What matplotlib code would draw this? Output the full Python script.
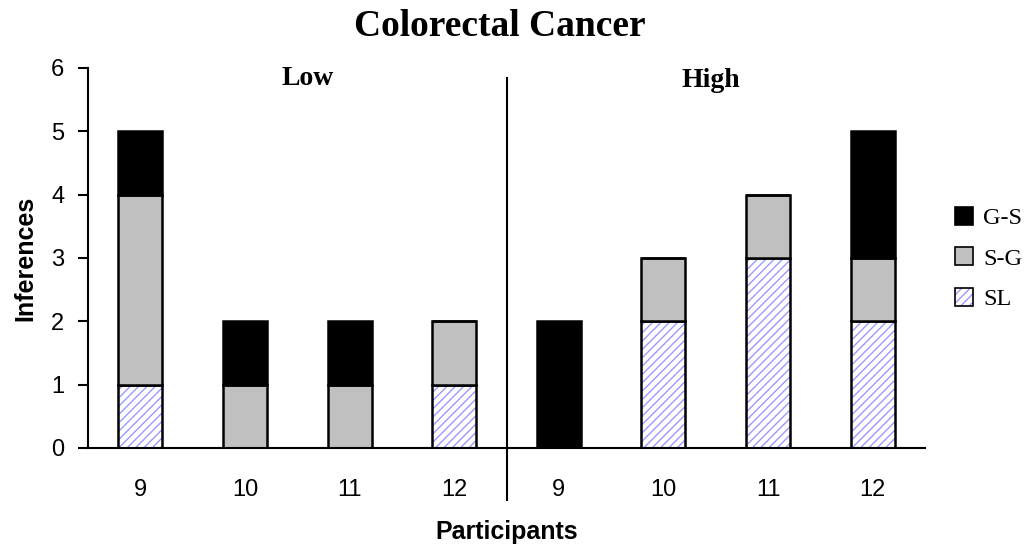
import matplotlib
matplotlib.use("Agg")
import matplotlib.pyplot as plt
from matplotlib.patches import Patch
from matplotlib.legend_handler import HandlerTuple
import numpy as np

categories = ["9", "10", "11", "12", "9", "10", "11", "12"]
sl = [1, 0, 0, 1, 0, 2, 3, 2]
sg = [3, 1, 1, 1, 0, 1, 1, 1]
gs = [1, 1, 1, 0, 2, 0, 0, 2]
group_labels = ["Low", "High"]

fig = plt.figure(figsize=(10.29, 5.48), dpi=100)
ax = fig.add_axes([88/1029, 100/548, (925-88)/1029, (448-68)/548])

x = np.arange(len(categories))
w = 0.42
sl_a = np.array(sl); sg_a = np.array(sg); gs_a = np.array(gs)

hatch_col = "#9a9aff"
# SL hatch fill
ax.bar(x, sl_a, w, color="white", edgecolor=hatch_col, hatch="////", linewidth=0)
ax.bar(x, sl_a, w, fill=False, edgecolor="black", linewidth=1.8)
ax.bar(x, sg_a, w, bottom=sl_a, color="#c0c0c0", edgecolor="black", linewidth=1.8)
ax.bar(x, gs_a, w, bottom=sl_a + sg_a, color="black", edgecolor="black", linewidth=1.8)

ax.set_xlim(-0.5, len(categories) - 0.5)
ax.set_ylim(0, 6)
ax.set_yticks(range(0, 7))
ax.set_xticks(x)
ax.set_xticklabels(categories, fontfamily="Liberation Sans", fontsize=17)
ax.tick_params(axis="x", length=0, pad=22)
ax.tick_params(axis="y", length=7, width=1.5, direction="out", pad=10, labelsize=17)
for lab in ax.get_yticklabels():
    lab.set_fontfamily("Liberation Sans")
for s in ["top", "right"]:
    ax.spines[s].set_visible(False)
ax.spines["left"].set_linewidth(1.5)
ax.spines["bottom"].set_linewidth(1.5)

# divider
ax.plot([3.5, 3.5], [5.84, -0.82], color="black", linewidth=1.5, clip_on=False)
ax.text(1.6, 5.84, group_labels[0], ha="center", va="center", fontsize=20,
        fontweight="bold", fontfamily="Liberation Serif")
ax.text(5.45, 5.8, group_labels[1], ha="center", va="center", fontsize=20,
        fontweight="bold", fontfamily="Liberation Serif")

ax.set_ylabel("Inferences", fontsize=18, fontweight="bold", fontfamily="Liberation Sans", labelpad=10)
ax.set_xlabel("Participants", fontsize=18, fontweight="bold", fontfamily="Liberation Sans", labelpad=14)
fig.text(0.486, 0.952, "Colorectal Cancer", ha="center", va="center", fontsize=27,
         fontweight="bold", fontfamily="Liberation Serif")

h_gs = Patch(facecolor="black", edgecolor="black", linewidth=1.2)
h_sg = Patch(facecolor="#c0c0c0", edgecolor="black", linewidth=1.2)
h_sl = (Patch(facecolor="white", edgecolor=hatch_col, hatch="////", linewidth=0),
        Patch(fill=False, edgecolor="black", linewidth=1.2))
leg = fig.legend(handles=[h_gs, h_sg, h_sl], labels=["G-S", "S-G", "SL"],
                 handler_map={tuple: HandlerTuple(ndivide=1, pad=0)},
                 loc="center left", bbox_to_anchor=(0.907, 0.528),
                 frameon=False, prop={"family": "Liberation Serif", "size": 17.5},
                 handlelength=0.75, handleheight=0.75, handletextpad=0.4, labelspacing=0.75)

fig.savefig("out.png", dpi=100)
